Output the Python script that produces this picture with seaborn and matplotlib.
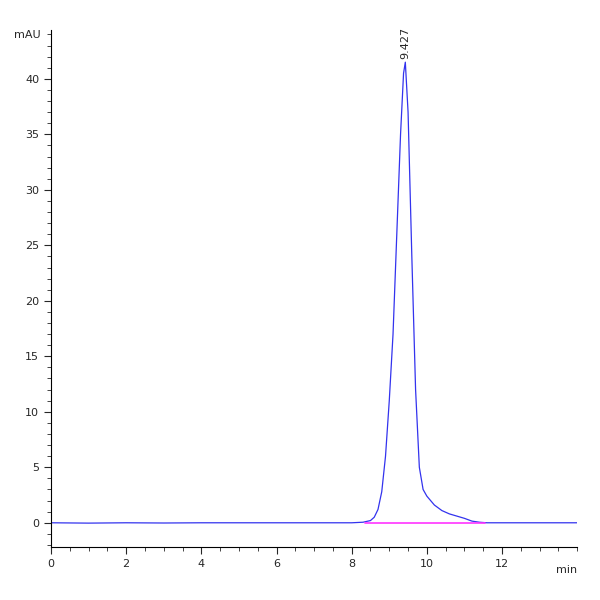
import matplotlib
matplotlib.use("Agg")
import matplotlib.pyplot as plt
import seaborn as sns
from matplotlib.ticker import MultipleLocator, FixedLocator

time_min = [0, 1, 2, 3, 4, 5, 6, 7, 8, 8.3, 8.5, 8.6, 8.7, 8.8, 8.9, 9.0, 9.1, 9.2, 9.3, 9.38, 9.427,
            9.5, 9.6, 9.7, 9.8, 9.9, 10.0, 10.2, 10.4, 10.6, 10.8, 11.0, 11.2, 11.4, 11.6, 12, 13, 14]
signal_mau = [0, -0.03, 0, -0.02, 0, 0, 0, 0, 0, 0.05, 0.2, 0.5, 1.2, 2.8, 6, 11, 17, 26, 35, 40.5, 41.5,
              37, 24, 12, 5, 3, 2.4, 1.6, 1.1, 0.8, 0.6, 0.4, 0.15, 0.05, 0.0, 0, 0, 0]
baseline_x = [8.35, 11.55]
baseline_y = [0, 0]
peak_rt = 9.427
peak_h = 41.5
x_ticks = [0, 2, 4, 6, 8, 10, 12]

sns.set_style("white")
fig, ax = plt.subplots(figsize=(6, 6), dpi=100)
fig.subplots_adjust(left=0.085, right=0.962, top=0.95, bottom=0.088)
sns.lineplot(x=time_min, y=signal_mau, ax=ax, color="#3333ee", lw=0.9)
sns.lineplot(x=baseline_x, y=baseline_y, ax=ax, color="#ff33ff", lw=1.2)
ax.set_xlim(0, 14)
ax.set_ylim(-2.2, 44.4)
for s in ["top", "right"]:
    ax.spines[s].set_visible(False)
for s in ["left", "bottom"]:
    ax.spines[s].set_color("black")
    ax.spines[s].set_linewidth(0.8)
ax.xaxis.set_major_locator(FixedLocator(x_ticks))
ax.xaxis.set_minor_locator(MultipleLocator(0.5))
ax.yaxis.set_major_locator(MultipleLocator(5))
ax.yaxis.set_minor_locator(MultipleLocator(1))
ax.tick_params(which="major", direction="out", length=5, width=0.8, labelsize=8, bottom=True, left=True)
ax.tick_params(which="minor", direction="out", length=3, width=0.6, bottom=True, left=True)
ax.set_xlabel(""); ax.set_ylabel("")
ax.text(-0.02, 1.0, "mAU", transform=ax.transAxes, ha="right", va="top", fontsize=8)
ax.text(1.0, -0.035, "min", transform=ax.transAxes, ha="right", va="top", fontsize=8)
ax.text(peak_rt, peak_h + 0.3, "9.427", rotation=90, ha="center", va="bottom", fontsize=8)
fig.savefig("out.png", dpi=100)
